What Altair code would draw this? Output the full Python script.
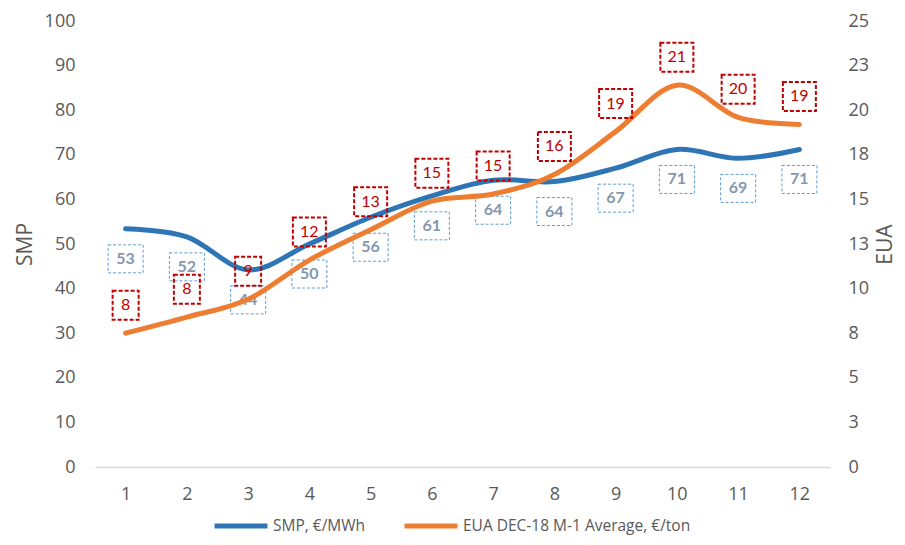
import altair as alt
import pandas as pd

months = [1, 2, 3, 4, 5, 6, 7, 8, 9, 10, 11, 12]
smp = [53.4, 51.6, 44.2, 50.0, 56.0, 60.8, 64.3, 64.0, 67.0, 71.2, 69.2, 71.2]
eua = [7.5, 8.4, 9.4, 11.6, 13.3, 14.9, 15.3, 16.4, 18.8, 21.4, 19.6, 19.2]
smp_name = "SMP, €/MWh"
eua_name = "EUA DEC-18 M-1 Average, €/ton"

df = pd.DataFrame({"month": months, "smp": smp, "eua": eua})
df["smp_lbl"] = [str(int(round(v))) for v in smp]
df["eua_lbl"] = [str(int(round(v))) for v in eua]
df["eua_len"] = df["eua_lbl"].str.len()

FONT = "Open Sans"
GREY = "#595959"
BLUE = "#2E75B6"
ORANGE = "#ED7D31"

xaxis = alt.Axis(values=months, title=None, ticks=False, grid=False,
                 domainColor="#D9D9D9", domainWidth=1.5, labelFontSize=18,
                 labelColor=GREY, labelFont=FONT, labelPadding=18)
xscale = alt.Scale(domain=[0.5, 12.5], nice=False, zero=False)
xenc = alt.X("month:Q", scale=xscale, axis=xaxis)

yaxis_smp = alt.Axis(orient="left", values=list(range(0, 101, 10)), title="SMP", grid=False,
                     ticks=False, domain=False, labelFontSize=18, labelColor=GREY,
                     labelFont=FONT, labelPadding=20, titleFontSize=21, titleFont=FONT,
                     titleColor=GREY, titleFontWeight="normal", titlePadding=9)
yaxis_eua = alt.Axis(orient="right", values=[i * 2.5 for i in range(11)],
                     labelExpr="round(datum.value)", title="EUA", grid=False,
                     ticks=False, domain=False, labelFontSize=18, labelColor=GREY,
                     labelFont=FONT, labelPadding=18, titleFontSize=21, titleFont=FONT,
                     titleColor=GREY, titleFontWeight="normal", titlePadding=27,
                     titleAngle=270)
ysmp_scale = alt.Scale(domain=[0, 100], nice=False)
yeua_scale = alt.Scale(domain=[0, 25], nice=False)
ysmp = alt.Y("smp:Q", scale=ysmp_scale, axis=yaxis_smp)
yeua = alt.Y("eua:Q", scale=yeua_scale, axis=yaxis_eua)

color_scale = alt.Scale(domain=[smp_name, eua_name], range=[BLUE, ORANGE])
legend = alt.Legend(title=None, orient="none", legendX=117, legendY=476, direction="horizontal",
                    symbolType="stroke", symbolStrokeWidth=5, symbolSize=2800,
                    labelFontSize=15.5, labelFont=FONT, labelColor=GREY, columnPadding=28,
                    labelLimit=400, labelOffset=3)

base = alt.Chart(df)

smp_line = base.transform_calculate(series=f"'{smp_name}'").mark_line(
    interpolate="cardinal", strokeWidth=5, strokeCap="round").encode(
    x=xenc, y=ysmp,
    color=alt.Color("series:N", scale=color_scale, legend=legend),
)
smp_box = base.mark_rect(width=35, height=28, yOffset=30, fill=None, fillOpacity=0,
                         stroke="#5B9BD5", strokeWidth=1, strokeDash=[3, 2]).encode(
    x=xenc, y=ysmp)
smp_text = base.mark_text(dy=30, font="Lato", fontSize=16, fontWeight="bold",
                          color="#8497B0").encode(x=xenc, y=ysmp, text="smp_lbl:N")
smp_layer = alt.layer(smp_line, smp_box, smp_text)

eua_line = base.transform_calculate(series=f"'{eua_name}'").mark_line(
    interpolate="cardinal", strokeWidth=5, strokeCap="round").encode(
    x=xenc, y=yeua,
    color=alt.Color("series:N", scale=color_scale, legend=legend),
)
eua_box1 = base.transform_filter("datum.eua_len == 1").mark_rect(
    width=26, height=29, yOffset=-28, fill=None, fillOpacity=0,
    stroke="#C00000", strokeWidth=2, strokeDash=[4, 2]).encode(x=xenc, y=yeua)
eua_box2 = base.transform_filter("datum.eua_len == 2").mark_rect(
    width=33, height=29, yOffset=-28, fill=None, fillOpacity=0,
    stroke="#C00000", strokeWidth=2, strokeDash=[4, 2]).encode(x=xenc, y=yeua)
eua_text = base.mark_text(dy=-28, font="Lato", fontSize=16, color="#C00000").encode(
    x=xenc, y=yeua, text="eua_lbl:N")
eua_layer = alt.layer(eua_line, eua_box1, eua_box2, eua_text)

chart = alt.layer(smp_layer, eua_layer).resolve_scale(y="independent").properties(
    width=735, height=446,
    autosize=alt.AutoSizeParams(type="none"),
    padding={"left": 87, "top": 13, "right": 67, "bottom": 70},
).configure_view(stroke=None)

chart.save("out.html", embed_options={"renderer": "svg", "actions": False})
